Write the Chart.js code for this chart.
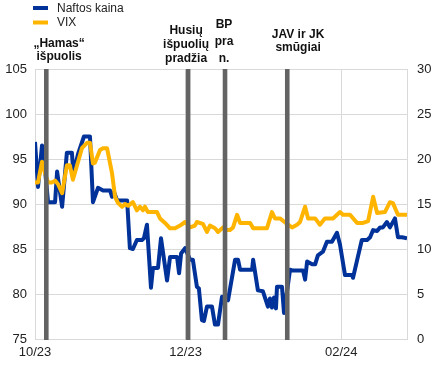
<!DOCTYPE html>
<html><head><meta charset="utf-8">
<script src="https://cdn.jsdelivr.net/npm/chart.js@4.4.1/dist/chart.umd.min.js"></script>
<style>html,body{margin:0;padding:0;background:#fff;}#wrap{width:436px;height:366px;position:relative;}</style>
</head><body><div id="wrap"><canvas id="c" width="436" height="366"></canvas></div>
<script>
// ---- data (x = calendar days since 2 Oct 2023) ----
const tickDays = [0, 60, 122];
const tickLabels = ['10/23', '12/23', '02/24'];
const seriesNames = ['Naftos kaina', 'VIX'];
const oilDays = [0,1.2,2.8,3.6,5.2,8.0,8.8,10.8,12.7,14.7,15.3,17.1,19.5,21.9,23.1,25.1,27.1,29.9,30.7,31.5,32.7,36.7,37.8,39.0,40.6,42.6,43.4,44.6,46.2,47.0,49.0,50.2,52.6,53.8,56.6,57.4,58.2,59.8,61.8,62.9,64.5,65.3,66.5,67.3,68.5,70.5,71.7,72.9,74.5,76.9,79.7,80.9,81.7,86.5,86.9,88.8,90.8,92.8,93.6,94.4,95.2,96.0,96.4,98.4,99.2,101.6,102.8,106.8,107.6,108.4,110.4,111.6,112.7,114.7,116.3,118.3,120.3,121.5,123.5,126.3,126.7,128.6,130.2,132.3,133.5,134.7,136.3,137.5,138.6,140.2,141.4,143.4,144.6,146.2,148.2];
const oilValues = [96.9,91.9,96.5,95.0,90.2,90.2,93.6,89.7,95.7,95.7,93.4,95.5,97.5,97.5,90.2,91.8,91.5,91.5,90.8,91.3,90.4,90.4,85.1,85.0,86.0,86.0,86.2,87.7,80.7,82.9,82.9,86.2,81.5,84.1,84.1,82.3,84.5,85.1,83.8,83.8,80.8,80.6,77.1,77.0,78.6,78.6,76.6,76.6,79.7,79.3,83.8,83.8,82.7,82.7,83.8,80.4,80.3,78.6,79.5,78.5,79.6,78.4,80.8,80.8,77.9,82.7,82.6,82.6,81.6,83.6,83.3,83.3,84.3,84.7,85.8,85.8,86.8,85.5,82.1,82.1,81.8,84.1,86.0,86.0,86.3,87.1,87.0,87.4,87.4,88.0,87.4,88.4,86.3,86.3,86.2];
const vixDays = [0,1.2,2.8,4.0,5.2,6.8,8.0,9.2,10.8,12.7,13.9,15.1,18.7,20.7,21.9,23.1,23.9,25.9,27.1,28.7,30.7,31.9,33.1,34.7,35.9,37.1,39.0,40.6,41.8,43.0,43.8,45.0,47.0,48.6,49.8,51.8,53.8,55.8,57.8,59.8,61.8,63.7,64.5,66.9,68.5,69.7,71.7,72.9,74.9,75.7,77.7,78.9,80.5,81.7,85.7,86.9,92.4,94.4,95.6,97.6,100.8,102.4,104.4,105.6,107.6,108.8,111.6,113.5,115.5,118.7,121.5,122.7,125.5,128.3,130.7,132.7,134.7,136.3,139.4,141.4,142.6,144.6,148.2];
const vixValues = [17.4,17.4,19.7,18.4,17.4,17.4,17.6,17.2,16.2,19.3,19.3,17.7,21.2,21.8,21.8,19.5,19.6,21.0,21.2,21.2,18.4,15.8,15.1,14.7,15.0,14.8,15.2,14.3,14.7,14.3,14.7,14.1,14.1,14.1,13.4,12.9,12.3,12.3,12.6,13.0,12.4,12.6,13.0,12.8,11.9,12.6,12.3,11.9,12.4,12.1,12.1,12.4,13.8,12.9,12.9,12.3,12.3,14.1,13.4,13.4,12.7,12.4,12.7,13.0,14.7,13.4,13.4,12.7,13.4,13.4,14.1,13.8,13.8,12.9,12.9,13.1,15.8,14.0,14.1,15.2,15.1,13.8,13.8];
const eventDays = [4.5, 61.0, 75.7, 100.5];
const eventLabels = [['„Hamas“', 'išpuolis'], ['Husių', 'išpuolių', 'pradžia'], ['BP', 'pra', 'n.'], ['JAV ir JK', 'smūgiai']];

// ---- layout / style ----
const FONT = '"Liberation Sans", Arial, Helvetica, sans-serif';
const BLUE = '#003299', YELLOW = '#FFB400', GRID = '#d9d9d9', TXT = '#222';
const labelLayout = [
  {x: 9.6, y: [47, 60]},
  {x: 60.2, y: [34, 48, 62]},
  {x: 75.3, y: [28, 45, 62]},
  {x: 104.8, y: [38, 51]}
];

const overlay = {
  id: 'overlay',
  afterDatasetsDraw(chart) {
    const {ctx, chartArea: a, scales: {x}} = chart;
    ctx.save();
    ctx.fillStyle = '#646464';
    eventDays.forEach(d => {
      const px = x.getPixelForValue(d);
      ctx.fillRect(px - 2.3, a.top, 4.6, a.bottom - a.top + 1);
    });
    ctx.restore();
  },
  afterDraw(chart) {
    const {ctx, scales: {x}} = chart;
    ctx.save();
    // event labels
    ctx.fillStyle = '#111';
    ctx.font = 'bold 12px ' + FONT;
    ctx.textAlign = 'center';
    ctx.textBaseline = 'alphabetic';
    eventLabels.forEach((lines, i) => {
      const L = labelLayout[i];
      const px = x.getPixelForValue(L.x);
      lines.forEach((t, j) => ctx.fillText(t, px, L.y[j]));
    });
    // legend
    const cols = [BLUE, YELLOW];
    ctx.font = '12px ' + FONT;
    ctx.textAlign = 'left';
    ctx.textBaseline = 'middle';
    seriesNames.forEach((n, i) => {
      const y = 8 + i * 14.5;
      ctx.strokeStyle = cols[i];
      ctx.lineWidth = 4;
      ctx.beginPath(); ctx.moveTo(33, y); ctx.lineTo(48, y); ctx.stroke();
      ctx.fillStyle = TXT;
      ctx.fillText(n, 57, y + 0.5);
    });
    ctx.restore();
  }
};

new Chart(document.getElementById('c'), {
  type: 'line',
  data: {
    datasets: [
      {label: seriesNames[0], data: oilDays.map((d, i) => ({x: d, y: oilValues[i]})), yAxisID: 'y',
       borderColor: BLUE, borderWidth: 4, pointRadius: 0, tension: 0, order: 1, borderJoinStyle: 'round'},
      {label: seriesNames[1], data: vixDays.map((d, i) => ({x: d, y: vixValues[i]})), yAxisID: 'y1',
       borderColor: YELLOW, borderWidth: 4, pointRadius: 0, tension: 0, order: 0, borderJoinStyle: 'round'}
    ]
  },
  options: {
    responsive: false, animation: false,
    layout: {padding: {top: 69, left: 0, right: 0, bottom: 0}},
    plugins: {legend: {display: false}, tooltip: {enabled: false}},
    scales: {
      x: {
        type: 'linear', min: 0, max: 148.2,
        afterBuildTicks: s => { s.ticks = tickDays.map(v => ({value: v})); },
        afterFit: s => { s.height = 27; },
        ticks: {callback: v => tickLabels[tickDays.indexOf(v)], font: {family: FONT, size: 13}, color: TXT, padding: 6, maxRotation: 0, autoSkip: false},
        grid: {color: GRID, drawTicks: false},
        border: {color: GRID}
      },
      y: {
        position: 'left', min: 75, max: 105,
        afterFit: s => { s.width = 35; },
        ticks: {stepSize: 5, font: {family: FONT, size: 13}, color: TXT, padding: 8},
        grid: {color: GRID, drawTicks: false},
        border: {color: GRID}
      },
      y1: {
        position: 'right', min: 0, max: 30,
        afterFit: s => { s.width = 29; },
        ticks: {stepSize: 5, font: {family: FONT, size: 13}, color: TXT, padding: 10},
        grid: {display: false, drawTicks: false},
        border: {color: GRID}
      }
    }
  },
  plugins: [overlay]
});
</script></body></html>
